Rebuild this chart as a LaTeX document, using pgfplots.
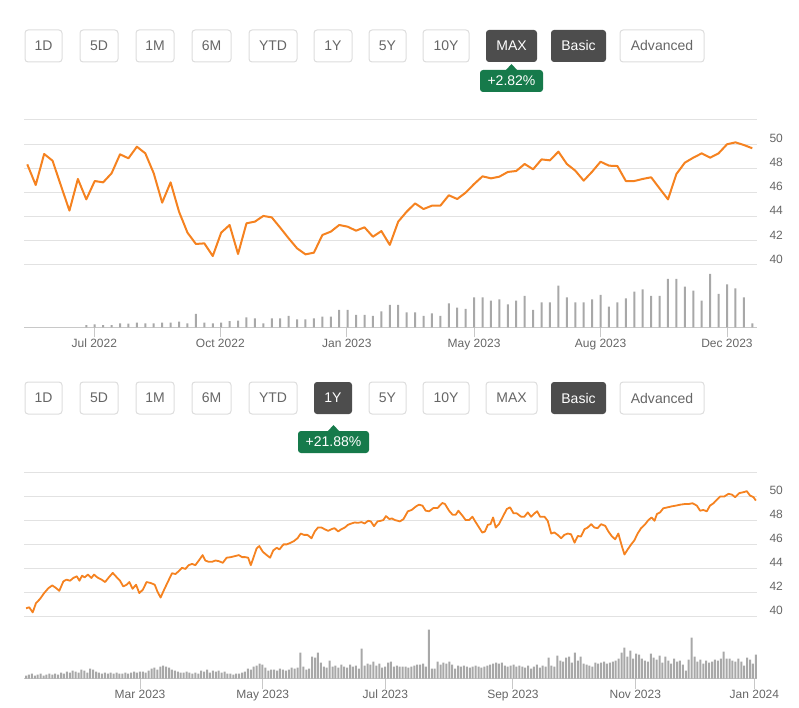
\documentclass[border=0pt]{standalone}
\usepackage{fontspec}
\setmainfont{Liberation Sans}
\usepackage{pgfplots}
\pgfplotsset{compat=1.18}

\definecolor{lineorange}{HTML}{F58220}
\definecolor{gridgray}{HTML}{E2E2E2}
\definecolor{axisgray}{HTML}{C8C8C8}
\definecolor{volgray}{HTML}{A8A8A8}
\definecolor{btnborder}{HTML}{DDDDDD}
\definecolor{btntext}{HTML}{666666}
\definecolor{btnactive}{HTML}{4D4D4D}
\definecolor{badgegreen}{HTML}{167A4B}
\definecolor{labelgray}{HTML}{666666}

% button: x1 x2 y1 y2 label
\newcommand{\btn}[5]{%
  \draw[btnborder, rounded corners=3pt, fill=white, line width=1pt] (#1,#3) rectangle (#2,#4);
  \node[text=btntext, font=\fontsize{14}{16}\selectfont] at ({(#1+#2)/2},{(#3+#4)/2}) {#5};}
\newcommand{\btnon}[5]{%
  \fill[btnactive, rounded corners=3pt] (#1,#3) rectangle (#2,#4);
  \node[text=white, font=\fontsize{14}{16}\selectfont] at ({(#1+#2)/2},{(#3+#4)/2}) {#5};}
% badge: x1 x2 y1 y2 label
\newcommand{\badge}[5]{%
  \fill[badgegreen, rounded corners=3pt] (#1,#3) rectangle (#2,#4);
  \fill[badgegreen] ({(#1+#2)/2-6},{#3+0.5}) -- ({(#1+#2)/2},{#3-6}) -- ({(#1+#2)/2+6},{#3+0.5}) -- cycle;
  \node[text=white, font=\fontsize{14}{16}\selectfont] at ({(#1+#2)/2},{(#3+#4)/2}) {#5};}

\newcommand{\buttonrow}[2]{% y1 y2
  \btn{25}{62}{#1}{#2}{1D}
  \btn{80}{118}{#1}{#2}{5D}
  \btn{136}{174}{#1}{#2}{1M}
  \btn{192}{231}{#1}{#2}{6M}
  \btn{249}{297}{#1}{#2}{YTD}
  \btn{369}{406}{#1}{#2}{5Y}
  \btn{423}{469}{#1}{#2}{10Y}
  \btnon{551}{606}{#1}{#2}{Basic}
  \btn{620}{704}{#1}{#2}{Advanced}}

\pgfplotsset{
  price/.style={
    scale only axis, anchor=south west, width=733pt,
    ymin=40, ymax=52,
    axis line style={draw=none},
    major tick length=0pt,
    xtick=\empty,
    ytick={40,42,44,46,48,50,52},
    yticklabels={40,42,44,46,48,50,},
    yticklabel pos=right,
    yticklabel style={font=\fontsize{12}{14}\selectfont, text=labelgray, anchor=west, xshift=9pt, yshift=6pt},
    ymajorgrids, grid style={gridgray, line width=1pt},
  },
  volume/.style={
    scale only axis, anchor=south west, width=733pt, height=60pt,
    ymin=0, ymax=60,
    axis x line*=bottom, axis y line=none,
    x axis line style={axisgray, line width=1pt},
    ytick=\empty,
    tick align=outside, major tick length=10pt,
    xtick style={axisgray, line width=1pt},
    xticklabel style={font=\fontsize{12}{14}\selectfont, text=labelgray, yshift=2pt},
  },
}

\begin{document}
\begin{tikzpicture}
\useasboundingbox (0pt,0pt) rectangle (799pt,-708pt);

\begin{scope}[x=1pt, y=-1pt]
  % top row, MAX selected
  \buttonrow{30}{62}
  \btn{314}{352}{30}{62}{1Y}
  \btnon{486}{537}{30}{62}{MAX}
  \badge{480}{543}{70}{92}{+2.82\%}
  % bottom row, 1Y selected
  \buttonrow{382}{414}
  \btnon{314}{352}{382}{414}{1Y}
  \btn{486}{537}{382}{414}{MAX}
  \badge{298}{369}{431}{453}{+21.88\%}
\end{scope}

% ---------- MAX chart (weekly) ----------
\begin{axis}[price, at={(24pt,-265pt)}, height=145pt, xmin=-0.39, xmax=86.56]
\addplot[lineorange, line width=2pt, line join=round] coordinates {
(0,48.33) (1,46.62) (2,49.19) (3,48.63) (4,46.55) (5,44.50) (6,47.12) (7,45.43)
(8,46.95) (9,46.84) (10,47.59) (11,49.16) (12,48.83) (13,49.79) (14,49.24) (15,47.59)
(16,45.16) (17,46.84) (18,44.41) (19,42.68) (20,41.74) (21,41.79) (22,40.74) (23,42.68)
(24,43.31) (25,40.91) (26,43.45) (27,43.59) (28,44.06) (29,43.94) (30,43.09) (31,42.21)
(32,41.38) (33,40.88) (34,41.02) (35,42.48) (36,42.76) (37,43.31) (38,43.17) (39,42.84)
(40,43.12) (41,42.34) (42,42.81) (43,41.66) (44,43.59) (45,44.41) (46,45.10) (47,44.63)
(48,44.91) (49,44.91) (50,45.77) (51,45.46) (52,45.99) (53,46.70) (54,47.34) (55,47.17)
(56,47.31) (57,47.70) (58,47.78) (59,48.36) (60,47.92) (61,48.74) (62,48.66) (63,49.38)
(64,48.36) (65,47.81) (66,46.98) (67,47.72) (68,48.55) (69,48.22) (70,48.19) (71,46.95)
(72,46.95) (73,47.12) (74,47.26) (75,46.34) (76,45.43) (77,47.53) (78,48.47) (79,48.88)
(80,49.24) (81,48.88) (82,49.24) (83,49.99) (84,50.15) (85,49.93) (86,49.66)
};
\end{axis}

\begin{axis}[volume, at={(24pt,-327.3pt)}, xmin=-0.39, xmax=86.56,
  xtick={7.95,22.9,37.9,53,68,83},
  xticklabels={Jul 2022,Oct 2022,Jan 2023,May 2023,Aug 2023,Dec 2023}]
\addplot[ybar, bar width=2pt, fill=volgray, draw=none] coordinates {
(7,2.3) (8,3) (9,2.3) (10,2.3) (11,4) (12,3.7) (13,4.7) (14,4) (15,4) (16,4.7)
(17,4.7) (18,5.7) (19,4) (20,13.3) (21,4.7) (22,4) (23,4.7) (24,6.3) (25,6.7) (26,10)
(27,9) (28,4) (29,9) (30,9) (31,11.3) (32,8) (33,8) (34,9) (35,10.7) (36,10.7)
(37,17.3) (38,17.3) (39,12.3) (40,12.3) (41,11.3) (42,16) (43,22.3) (44,22.3) (45,15) (46,15)
(47,11.3) (48,14) (49,11.3) (50,24) (51,19.7) (52,18.3) (53,30) (54,30) (55,26.7) (56,28)
(57,23) (58,26.7) (59,31.3) (60,17.3) (61,25) (62,25) (63,41.7) (64,30) (65,25) (66,25)
(67,28) (68,32.3) (69,20.7) (70,25) (71,29) (72,35.7) (73,38) (74,31.3) (75,31.3) (76,48.3)
(77,48.3) (78,40.7) (79,36.7) (80,26.7) (81,53.3) (82,33.3) (83,43) (84,39) (85,30) (86,4)
};
\end{axis}

% ---------- 1Y chart (daily, trading-day index) ----------
\begin{axis}[price, at={(24pt,-616.7pt)}, height=144.4pt, xmin=-0.69, xmax=250.4]
\addplot[lineorange, line width=1.8pt, line join=round] coordinates {
(0.0,40.70) (1.1,40.78) (2.3,40.36) (3.4,41.12) (4.8,41.48) (6.2,41.96) (7.7,42.38) (9.0,42.60)
(10.3,42.38) (11.4,42.15) (12.8,42.94) (13.9,43.08) (15.1,42.99) (16.2,43.22) (17.4,43.36) (18.3,42.99)
(19.2,43.41) (20.1,43.27) (21.2,43.50) (22.4,43.22) (23.3,43.50) (24.4,43.27) (25.9,43.08) (27.1,42.88)
(28.2,43.22) (29.7,43.64) (31.1,43.27) (32.2,42.99) (33.3,42.52) (34.5,42.66) (35.4,42.88) (36.5,42.32)
(37.7,42.66) (38.8,41.96) (40.0,42.24) (41.3,42.88) (42.7,42.80) (44.1,42.66) (45.0,42.10) (46.1,41.59)
(47.3,42.24) (48.4,42.80) (50.0,43.61) (51.2,43.55) (52.3,43.78) (53.4,44.06) (54.6,43.97) (55.7,44.28)
(56.9,44.39) (58.0,44.28) (59.2,44.67) (60.5,45.12) (61.4,44.67) (62.6,44.56) (63.7,44.56) (64.9,44.67)
(66.0,44.62) (67.4,44.48) (68.7,44.90) (70.1,44.95) (71.5,45.03) (72.9,45.12) (74.0,44.95) (75.1,44.95)
(76.1,44.90) (77.0,44.28) (77.9,44.90) (79.0,45.68) (79.9,45.87) (81.1,45.40) (82.2,45.17) (83.6,44.90)
(84.7,45.51) (85.9,45.73) (86.8,45.59) (88.2,46.01) (89.3,46.01) (90.7,46.15) (91.8,46.29) (93.0,46.52)
(94.1,46.91) (95.2,46.80) (96.4,46.80) (97.8,46.52) (98.9,47.08) (100.0,47.41) (101.2,47.41) (102.3,47.27)
(103.5,47.13) (104.6,47.27) (105.7,47.36) (106.9,47.08) (108.0,47.27) (109.2,47.41) (110.3,47.64) (111.5,47.75)
(112.6,47.83) (113.7,47.80) (114.9,47.86) (116.0,47.75) (117.2,47.97) (118.1,47.92) (119.2,47.52) (120.4,47.92)
(121.5,47.97) (122.4,48.03) (123.3,48.36) (124.5,48.11) (125.3,48.17) (126.4,48.03) (128.1,47.92) (129.3,48.11)
(130.8,48.76) (132.1,48.87) (133.5,49.15) (134.6,49.31) (135.8,49.23) (136.9,48.81) (138.1,48.76) (139.6,49.04)
(141.0,49.04) (142.6,49.45) (143.5,49.37) (144.9,48.81) (146.1,48.48) (147.2,48.48) (148.1,48.81) (149.5,48.39)
(150.6,48.03) (151.8,48.03) (152.9,48.31) (154.1,47.83) (155.2,47.41) (156.3,46.99) (157.2,47.08) (158.2,47.64)
(159.1,47.69) (160.0,48.25) (160.9,47.41) (162.0,47.69) (163.5,48.39) (164.7,48.95) (165.8,49.09) (167.0,48.59)
(168.1,48.59) (169.6,48.31) (170.7,48.31) (171.9,48.67) (173.0,48.31) (174.2,48.59) (175.1,48.76) (176.1,48.31)
(177.6,48.31) (178.7,47.97) (179.9,46.91) (181.0,47.00) (182.1,46.80) (183.3,46.52) (184.4,46.80) (185.6,46.91)
(186.7,46.85) (187.9,46.15) (189.0,46.71) (190.1,46.66) (191.3,47.27) (192.4,47.41) (193.6,47.69) (194.7,47.41)
(195.8,47.36) (197.0,47.69) (198.4,47.55) (199.5,47.08) (200.6,46.71) (201.8,46.43) (202.9,46.91) (204.1,45.87)
(205.0,45.17) (206.1,45.59) (207.3,46.01) (208.4,46.35) (209.5,46.91) (210.7,47.36) (212.1,47.69) (213.2,48.03)
(214.3,48.25) (215.3,47.97) (216.1,48.53) (217.2,48.67) (218.3,49.01) (219.8,49.09) (221.2,49.17) (222.6,49.23)
(224.1,49.31) (225.8,49.37) (227.1,49.37) (228.3,49.43) (229.8,49.23) (230.9,48.81) (232.0,48.87) (233.2,48.76)
(234.3,49.23) (235.5,49.43) (236.6,49.71) (237.8,49.99) (239.2,49.99) (240.6,50.21) (241.8,50.15) (242.9,49.93)
(244.3,50.27) (245.8,50.35) (246.9,50.43) (248.0,50.07) (249.2,49.93) (250.0,49.65)
};
\end{axis}

\begin{axis}[volume, at={(24pt,-678.7pt)}, xmin=-0.69, xmax=250.4,
  xtick={39.06,81.1,123.1,166.8,208.7,249.5},
  xticklabels={Mar 2023,May 2023,Jul 2023,Sep 2023,Nov 2023,Jan 2024}]
\addplot[ybar, bar width=2pt, fill=volgray, draw=none] table[row sep=\\] {
x y\\
0 3\\ 1 4\\ 2 5\\ 3 3\\ 4 4\\ 5 5\\ 6 3\\ 7 4\\ 8 5\\ 9 4\\
10 5\\ 11 4\\ 12 6\\ 13 5\\ 14 7\\ 15 6\\ 16 8\\ 17 7\\ 18 6\\ 19 9\\
20 8\\ 21 6\\ 22 10\\ 23 9\\ 24 7\\ 25 6\\ 26 5\\ 27 6\\ 28 5\\ 29 6\\
30 5\\ 31 6\\ 32 5\\ 33 5\\ 34 6\\ 35 5\\ 36 6\\ 37 7\\ 38 6\\ 39 7\\
40 7\\ 41 6\\ 42 8\\ 43 10\\ 44 11\\ 45 9\\ 46 12\\ 47 13\\ 48 12\\ 49 11\\
50 9\\ 51 8\\ 52 7\\ 53 6\\ 54 6\\ 55 7\\ 56 6\\ 57 5\\ 58 6\\ 59 5\\
60 8\\ 61 7\\ 62 9\\ 63 6\\ 64 8\\ 65 7\\ 66 8\\ 67 6\\ 68 7\\ 69 5\\
70 5\\ 71 4\\ 72 5\\ 73 5\\ 74 6\\ 75 7\\ 76 10\\ 77 9\\ 78 12\\ 79 13\\
80 15\\ 81 14\\ 82 11\\ 83 8\\ 84 9\\ 85 9\\ 86 8\\ 87 10\\ 88 9\\ 89 8\\
90 9\\ 91 11\\ 92 10\\ 93 11\\ 94 26\\ 95 12\\ 96 9\\ 97 10\\ 98 22\\ 99 21\\
100 26\\ 101 16\\ 102 12\\ 103 11\\ 104 18\\ 105 12\\ 106 13\\ 107 11\\ 108 14\\ 109 12\\
110 11\\ 111 14\\ 112 12\\ 113 13\\ 114 10\\ 115 30\\ 116 13\\ 117 15\\ 118 14\\ 119 17\\
120 13\\ 121 15\\ 122 11\\ 123 12\\ 124 16\\ 125 17\\ 126 12\\ 127 13\\ 128 12\\ 129 12\\
130 12\\ 131 11\\ 132 12\\ 133 13\\ 134 14\\ 135 14\\ 136 15\\ 137 12\\ 138 49\\ 139 10\\
140 10\\ 141 17\\ 142 14\\ 143 16\\ 144 15\\ 145 17\\ 146 14\\ 147 10\\ 148 13\\ 149 12\\
150 13\\ 151 12\\ 152 11\\ 153 12\\ 154 13\\ 155 12\\ 156 11\\ 157 12\\ 158 13\\ 159 14\\
160 15\\ 161 16\\ 162 15\\ 163 16\\ 164 13\\ 165 12\\ 166 13\\ 167 14\\ 168 12\\ 169 13\\
170 12\\ 171 11\\ 172 13\\ 173 10\\ 174 12\\ 175 14\\ 176 11\\ 177 13\\ 178 12\\ 179 21\\
180 13\\ 181 12\\ 182 23\\ 183 18\\ 184 17\\ 185 21\\ 186 22\\ 187 16\\ 188 26\\ 189 18\\
190 22\\ 191 15\\ 192 14\\ 193 13\\ 194 12\\ 195 16\\ 196 15\\ 197 16\\ 198 17\\ 199 15\\
200 16\\ 201 17\\ 202 18\\ 203 20\\ 204 26\\ 205 31\\ 206 22\\ 207 28\\ 208 20\\ 209 25\\
210 24\\ 211 20\\ 212 18\\ 213 17\\ 214 25\\ 215 21\\ 216 19\\ 217 23\\ 218 16\\ 219 22\\
220 18\\ 221 15\\ 222 20\\ 223 17\\ 224 18\\ 225 14\\ 226 8\\ 227 19\\ 228 41\\ 229 22\\
230 17\\ 231 19\\ 232 15\\ 233 18\\ 234 16\\ 235 17\\ 236 19\\ 237 18\\ 238 20\\ 239 27\\
240 20\\ 241 20\\ 242 18\\ 243 17\\ 244 20\\ 245 17\\ 246 13\\ 247 21\\ 248 19\\ 249 15\\
250 24\\
};
\end{axis}
\end{tikzpicture}
\end{document}
